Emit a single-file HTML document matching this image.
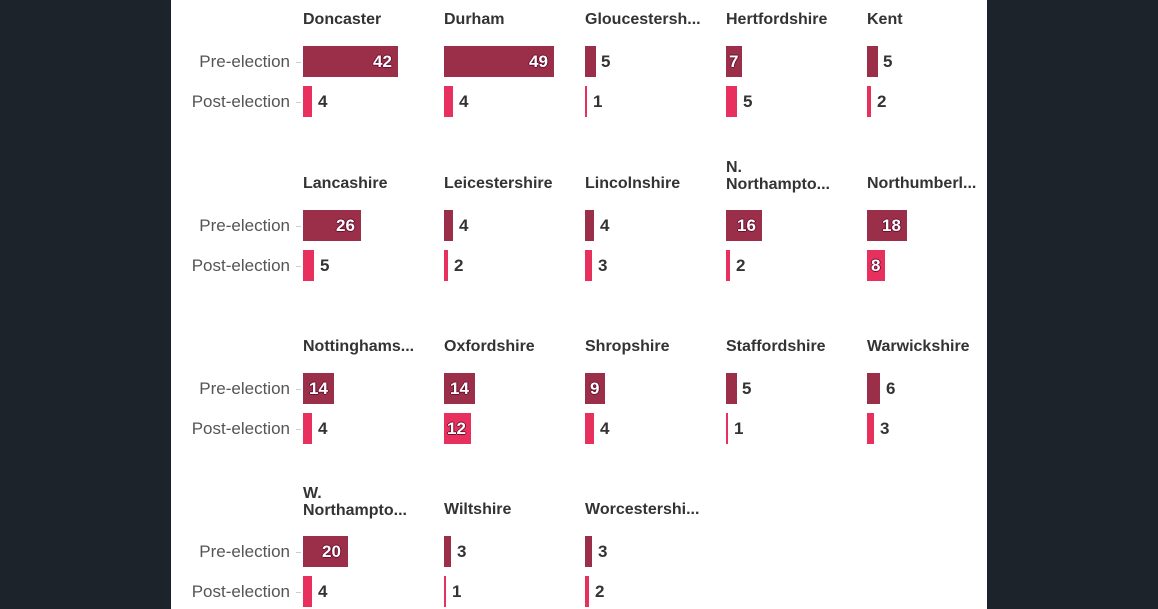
<!DOCTYPE html>
<html style="overflow:hidden;height:609px"><head><meta charset="utf-8"><style>
body{margin:0;width:1158px;height:609px;background:#1d232a;overflow:hidden;font-family:"Liberation Sans",sans-serif;position:relative}
#w{position:absolute;left:171px;top:0;width:816px;height:609px;background:#fff}
.r{position:absolute;left:0;width:1158px;height:119px}
.l{position:absolute;right:868px;font-size:17px;color:#555;line-height:20px}
.tk{position:absolute;left:296px;width:5px;height:1px;background:#ccc}
.p{position:absolute;top:0;width:135px;height:119px}
.t{position:absolute;left:0;top:11px;font-size:16px;font-weight:bold;color:#333;line-height:17px;white-space:nowrap}
.t2{top:-5px}
.b{position:absolute;left:0;height:31px}
.a{top:46px;background:#9b2f4a}.c{top:86px;background:#e8305f}
.v{position:absolute;font-size:17px;font-weight:bold;color:#333;line-height:31px}
.in{color:#fff;text-shadow:-1px 0 #6a1030,1px 0 #6a1030,0 -1px #6a1030,0 1px #6a1030}
</style></head><body><div id="w"></div>

<div class="r" style="top:0">
<div class="l" style="top:52px">Pre-election</div><div class="l" style="top:92px">Post-election</div>
<div class="tk" style="top:62px"></div><div class="tk" style="top:102px"></div>
<div class="p" style="left:303px"><div class="t">Doncaster</div><div class="b a" style="width:95px"></div><div class="v in" style="top:46px;left:70px">42</div><div class="b c" style="width:9px"></div><div class="v" style="top:86px;left:15px">4</div></div>
<div class="p" style="left:444px"><div class="t">Durham</div><div class="b a" style="width:110px"></div><div class="v in" style="top:46px;left:85px">49</div><div class="b c" style="width:9px"></div><div class="v" style="top:86px;left:15px">4</div></div>
<div class="p" style="left:585px"><div class="t">Gloucestersh...</div><div class="b a" style="width:11px"></div><div class="v" style="top:46px;left:16px">5</div><div class="b c" style="width:2px"></div><div class="v" style="top:86px;left:8px">1</div></div>
<div class="p" style="left:726px"><div class="t">Hertfordshire</div><div class="b a" style="width:16px"></div><div class="v in" style="top:46px;left:3px">7</div><div class="b c" style="width:11px"></div><div class="v" style="top:86px;left:17px">5</div></div>
<div class="p" style="left:867px"><div class="t">Kent</div><div class="b a" style="width:11px"></div><div class="v" style="top:46px;left:16px">5</div><div class="b c" style="width:4px"></div><div class="v" style="top:86px;left:10px">2</div></div>
</div>

<div class="r" style="top:164px">
<div class="l" style="top:52px">Pre-election</div><div class="l" style="top:92px">Post-election</div>
<div class="tk" style="top:62px"></div><div class="tk" style="top:102px"></div>
<div class="p" style="left:303px"><div class="t">Lancashire</div><div class="b a" style="width:58px"></div><div class="v in" style="top:46px;left:33px">26</div><div class="b c" style="width:11px"></div><div class="v" style="top:86px;left:17px">5</div></div>
<div class="p" style="left:444px"><div class="t">Leicestershire</div><div class="b a" style="width:9px"></div><div class="v" style="top:46px;left:15px">4</div><div class="b c" style="width:4px"></div><div class="v" style="top:86px;left:10px">2</div></div>
<div class="p" style="left:585px"><div class="t">Lincolnshire</div><div class="b a" style="width:9px"></div><div class="v" style="top:46px;left:15px">4</div><div class="b c" style="width:7px"></div><div class="v" style="top:86px;left:13px">3</div></div>
<div class="p" style="left:726px"><div class="t t2">N.<br>Northampto...</div><div class="b a" style="width:36px"></div><div class="v in" style="top:46px;left:11px">16</div><div class="b c" style="width:4px"></div><div class="v" style="top:86px;left:10px">2</div></div>
<div class="p" style="left:867px"><div class="t">Northumberl...</div><div class="b a" style="width:40px"></div><div class="v in" style="top:46px;left:15px">18</div><div class="b c" style="width:18px"></div><div class="v in" style="top:86px;left:4px">8</div></div>
</div>

<div class="r" style="top:327px">
<div class="l" style="top:52px">Pre-election</div><div class="l" style="top:92px">Post-election</div>
<div class="tk" style="top:62px"></div><div class="tk" style="top:102px"></div>
<div class="p" style="left:303px"><div class="t">Nottinghams...</div><div class="b a" style="width:31px"></div><div class="v in" style="top:46px;left:6px">14</div><div class="b c" style="width:9px"></div><div class="v" style="top:86px;left:15px">4</div></div>
<div class="p" style="left:444px"><div class="t">Oxfordshire</div><div class="b a" style="width:31px"></div><div class="v in" style="top:46px;left:6px">14</div><div class="b c" style="width:27px"></div><div class="v in" style="top:86px;left:3px">12</div></div>
<div class="p" style="left:585px"><div class="t">Shropshire</div><div class="b a" style="width:20px"></div><div class="v in" style="top:46px;left:5px">9</div><div class="b c" style="width:9px"></div><div class="v" style="top:86px;left:15px">4</div></div>
<div class="p" style="left:726px"><div class="t">Staffordshire</div><div class="b a" style="width:11px"></div><div class="v" style="top:46px;left:16px">5</div><div class="b c" style="width:2px"></div><div class="v" style="top:86px;left:8px">1</div></div>
<div class="p" style="left:867px"><div class="t">Warwickshire</div><div class="b a" style="width:13px"></div><div class="v" style="top:46px;left:19px">6</div><div class="b c" style="width:7px"></div><div class="v" style="top:86px;left:13px">3</div></div>
</div>

<div class="r" style="top:490px">
<div class="l" style="top:52px">Pre-election</div><div class="l" style="top:92px">Post-election</div>
<div class="tk" style="top:62px"></div><div class="tk" style="top:102px"></div>
<div class="p" style="left:303px"><div class="t t2">W.<br>Northampto...</div><div class="b a" style="width:45px"></div><div class="v in" style="top:46px;left:19px">20</div><div class="b c" style="width:9px"></div><div class="v" style="top:86px;left:15px">4</div></div>
<div class="p" style="left:444px"><div class="t">Wiltshire</div><div class="b a" style="width:7px"></div><div class="v" style="top:46px;left:13px">3</div><div class="b c" style="width:2px"></div><div class="v" style="top:86px;left:8px">1</div></div>
<div class="p" style="left:585px"><div class="t">Worcestershi...</div><div class="b a" style="width:7px"></div><div class="v" style="top:46px;left:13px">3</div><div class="b c" style="width:4px"></div><div class="v" style="top:86px;left:10px">2</div></div>
</div>
</body></html>
